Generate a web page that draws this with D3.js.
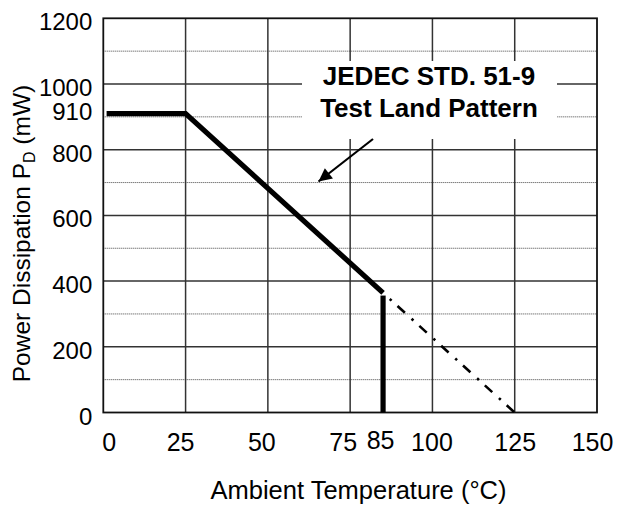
<!DOCTYPE html>
<html><head><meta charset="utf-8">
<script src="https://cdn.jsdelivr.net/npm/d3@7"></script>
<style>
body{margin:0;background:#fff;}
text{font-family:"Liberation Sans",Arial,sans-serif;fill:#000;}
</style></head>
<body><svg id="c" width="617" height="505"></svg>
<script>
// ---- data ----
const xTicks = [0, 25, 50, 75, 85, 100, 125, 150];
const yTicks = [0, 200, 400, 600, 800, 910, 1000, 1200];
const xGrid = [25, 50, 75, 100, 125];
const yGridSolid = [200, 400, 600, 800, 1000];
const yGridDotted = [100, 300, 500, 700, 900, 1100];
const curveTemp = [1, 25, 85];
const curvePower = [910, 910, 364];
const dropTemp = [85, 85];
const dropPower = [356, 0];
const extTemp = [85, 125];
const extPower = [364, 0];
const labelLines = ["JEDEC STD. 51-9", "Test Land Pattern"];
const xTitle = "Ambient Temperature (°C)";

// ---- styling tweaks (label nudges, px) ----
const xLabelNudge = {0: 5.5, 25: -5.5, 50: -6.5, 75: -7.5, 85: -3, 100: -1, 125: 0, 150: -5};

const svg = d3.select("#c");
const L = 103.3, R = 597, T = 18.3, B = 412.5;
const x = d3.scaleLinear().domain([0, 150]).range([L, R]);
const y = d3.scaleLinear().domain([0, 1200]).range([B, T]);

// grid
svg.append("g").selectAll("line").data(yGridDotted).join("line")
  .attr("x1", L).attr("x2", R).attr("y1", d => y(d)).attr("y2", d => y(d))
  .attr("stroke", "#444").attr("stroke-width", 1).attr("stroke-dasharray", "1,1");
svg.append("g").selectAll("line").data(yGridSolid).join("line")
  .attr("x1", L).attr("x2", R).attr("y1", d => y(d)).attr("y2", d => y(d))
  .attr("stroke", "#333").attr("stroke-width", 1.5);
svg.append("g").selectAll("line").data(xGrid).join("line")
  .attr("x1", d => x(d)).attr("x2", d => x(d)).attr("y1", T).attr("y2", B)
  .attr("stroke", "#333").attr("stroke-width", 1.5);

// frame
svg.append("rect").attr("x", L).attr("y", T).attr("width", R - L).attr("height", B - T)
  .attr("fill", "none").attr("stroke", "#111").attr("stroke-width", 1.8);

// label box (white)
svg.append("rect").attr("x", 302).attr("y", 61).attr("width", 255).attr("height", 78).attr("fill", "#fff");
svg.append("g").selectAll("text").data(labelLines).join("text")
  .attr("x", 429).attr("y", (d, i) => 85 + i * 32)
  .attr("text-anchor", "middle").attr("font-weight", "bold").attr("font-size", 26)
  .text(d => d);

// arrow
svg.append("defs").append("marker").attr("id", "ah")
  .attr("viewBox", "0 0 10 10").attr("refX", 10).attr("refY", 5)
  .attr("markerWidth", 8).attr("markerHeight", 6).attr("markerUnits", "strokeWidth")
  .attr("orient", "auto")
  .append("path").attr("d", "M0,0 L10,5 L0,10 Z").attr("fill", "#000");
svg.append("line").attr("x1", 373).attr("y1", 139).attr("x2", 318.5).attr("y2", 181.5)
  .attr("stroke", "#000").attr("stroke-width", 2.2).attr("marker-end", "url(#ah)");

// curves
const line = d3.line().x(d => x(d[0])).y(d => y(d[1]));
svg.append("path").datum(extTemp.map((t, i) => [t, extPower[i]]))
  .attr("d", line).attr("fill", "none").attr("stroke", "#000").attr("stroke-width", 2.6)
  .attr("stroke-dasharray", "0,9,2.5,8,10,0").attr("stroke-linecap", "butt");
svg.append("path").datum(curveTemp.map((t, i) => [t, curvePower[i]]))
  .attr("d", line).attr("fill", "none").attr("stroke", "#000").attr("stroke-width", 5.2)
  .attr("stroke-linejoin", "miter");
svg.append("path").datum(dropTemp.map((t, i) => [t, dropPower[i]]))
  .attr("d", line).attr("fill", "none").attr("stroke", "#000").attr("stroke-width", 5.2);

// axes
const xAxis = svg.append("g").attr("transform", `translate(0,${B})`)
  .call(d3.axisBottom(x).tickValues(xTicks).tickSize(0).tickPadding(21).tickFormat(d3.format("d")));
xAxis.select(".domain").remove();
xAxis.selectAll("text").attr("font-size", 25).attr("font-family", "Liberation Sans, Arial, sans-serif")
  .attr("fill", "#000")
  .attr("dx", d => xLabelNudge[d] || 0)
  .attr("dy", d => d === 85 ? "0.62em" : "0.71em");

const yAxis = svg.append("g").attr("transform", `translate(${L},0)`)
  .call(d3.axisLeft(y).tickValues(yTicks).tickSize(0).tickPadding(11).tickFormat(d3.format("d")));
yAxis.select(".domain").remove();
yAxis.selectAll("text").attr("font-size", 24).attr("font-family", "Liberation Sans, Arial, sans-serif")
  .attr("fill", "#000")
  .attr("dy", d => d === 910 ? 5.5 : 11.5);

// titles
svg.append("text").attr("x", 358.5).attr("y", 499).attr("text-anchor", "middle")
  .attr("font-size", 25.5).text(xTitle);
const yt = svg.append("text").attr("transform", "translate(30,233.5) rotate(-90)")
  .attr("text-anchor", "middle").attr("font-size", 24.5);
yt.append("tspan").text("Power Dissipation P");
yt.append("tspan").attr("font-size", 16).attr("dy", 5).text("D");
yt.append("tspan").attr("dy", -5).text(" (mW)");
</script></body></html>
